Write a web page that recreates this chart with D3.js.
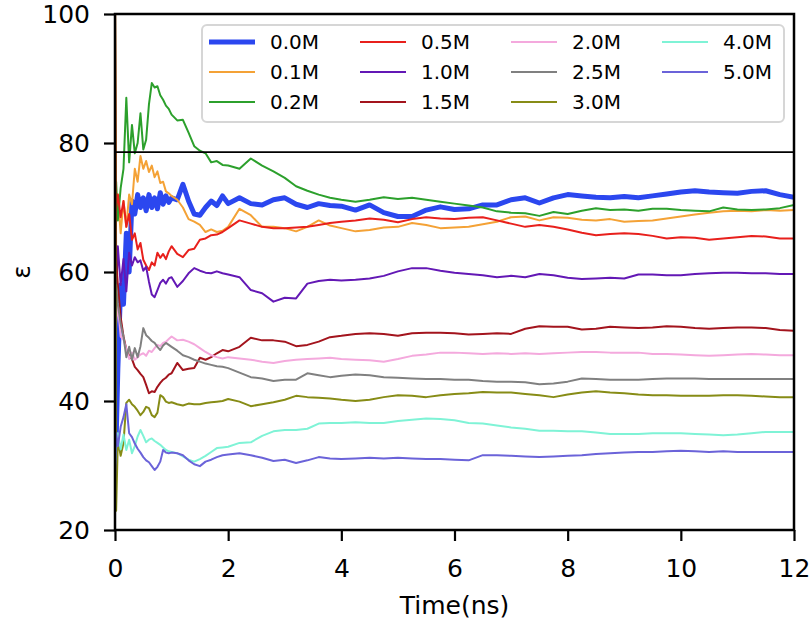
<!DOCTYPE html>
<html>
<head>
<meta charset="utf-8">
<script src="https://cdn.jsdelivr.net/npm/d3@7"></script>
<style>
  html, body { margin: 0; padding: 0; background: #fff; }
  svg { display: block; font-family: "DejaVu Sans", sans-serif; }
</style>
</head>
<body>
<svg id="chart" width="810" height="621"></svg>
<script>
// ---------- data ----------
const times = [0,0.02,0.05,0.1,0.15,0.2,0.25,0.3,0.35,0.4,0.45,0.5,0.55,0.6,0.65,0.7,0.75,0.8,0.85,0.9,0.95,1.0,
  1.1,1.2,1.3,1.4,1.5,1.6,1.7,1.8,1.9,2.0,
  2.2,2.4,2.6,2.8,3.0,3.2,3.4,3.6,3.8,4.0,
  4.25,4.5,4.75,5.0,5.25,5.5,5.75,6.0,6.25,6.5,6.75,7.0,7.25,7.5,7.75,8.0,8.25,8.5,8.75,9.0,9.25,9.5,9.75,10.0,10.25,10.5,10.75,11.0,11.25,11.5,11.75,12.0];

const eps00 = [40,34,45,58,55,66,60,71,69,72,70,71.5,69.5,72,70,71.5,69.8,72.3,70.5,71.8,70.8,71.5,
  71.2,73.6,71,69,68.8,70,71,70.3,71.8,70.6,
  71.5,70.6,70.4,71.2,71.5,70.5,70,70.6,70.3,70.2,
  69.6,70.4,69.2,68.6,68.6,69.6,70.1,69.7,69.8,70.4,70.4,71.2,71.5,70.7,71.5,72,71.8,71.6,71.5,71.7,71.5,71.8,72.1,72.4,72.6,72.4,72.3,72.2,72.5,72.6,72,71.6];
const eps01 = [105,68,72,66,71,67,72,70.5,76,74,78,76,77.2,75.5,76.5,74.7,75.6,73.8,74,72.5,72.2,71.8,
  71.2,70,68.2,67.8,67.3,66.2,66.6,66.2,66.4,67,
  69.8,68.8,67,67,66.8,66.3,67,68,67.2,66.8,
  66.3,66.5,66.9,67,67.6,67.3,66.8,66.9,67,67.4,67.8,68.5,68.6,68,68.5,68.4,68.1,68,68.2,67.8,67.9,68,68.3,68.6,68.9,69.2,69.4,69.5,69.4,69.6,69.5,69.6];
const eps02 = [60,74,68,73,76,87,77,82.8,78.4,80,84.6,79,80.5,86,89.3,88.6,88.8,87.4,86.7,85.8,85.3,84.4,
  83.5,83.6,81.6,79.5,78.8,78.4,77,77.2,76.6,76.5,
  76,77.6,76.5,75.6,74.6,73.3,72.6,72,71.5,71.2,
  70.9,71.2,71.6,71.3,71.5,71.2,70.9,70.6,70.3,70,69.4,69.2,69.1,68.7,69.3,69,69.5,69.9,69.6,69.7,69.5,69.8,69.8,69.6,69.5,69.4,70,69.7,69.6,69.7,69.9,70.4];
const eps05 = [75,70,72,68.5,71,67,69,65,66,63.5,64.5,61.9,61,60.3,61.5,61,63,62.2,62.8,62,63.2,64,
  62.8,62.3,63.4,63.6,65,65.2,65.7,65.8,66.2,66.8,
  68,67.5,67,66.8,66.8,66.9,67,67.3,67.6,67.8,
  68,68.3,68.1,67.7,68.2,68.5,68.3,68.2,68.4,68.5,68,67.5,67,67.3,67,66.6,66.1,65.7,65.9,66,65.9,65.6,65.2,65.4,65.3,65,65.2,65.4,65.6,65.5,65.2,65.2];
const eps10 = [50,56,64,58,62,57,63,61,62.3,61.5,61.8,60.2,60.8,58.5,56.5,56.1,57.2,58.3,58.8,58.2,59,59.2,
  57.7,58.6,59.8,60.6,60.2,59.9,59.8,60.1,59.8,59.6,
  59.2,57.2,56.7,55.4,56,55.9,58.2,58.6,58.8,58.7,
  58.8,59,59.4,60.1,60.6,60.6,60.2,59.9,59.7,59.5,59.2,59.4,59.2,59.7,59.5,59.1,58.9,59,59.1,59,59.6,59.6,59.5,59.5,59.7,59.8,59.9,59.9,59.8,59.8,59.7,59.7];
const eps15 = [102,62,58,53,50,48,47,46.5,45.3,44.8,44.2,43.7,42.5,41.2,41.5,41.4,42.2,42.8,43.3,43.6,44.1,44.3,
  45.9,44.8,45,45.1,46.7,46.4,46.8,47.4,47.9,47.7,
  48.4,49.8,49.4,49.4,49.2,48.5,48.7,49.2,49.9,50.1,
  50.4,50.5,50.4,50.1,50.5,50.6,50.6,50.5,50.3,50.4,50.5,50.4,51.2,51.6,51.5,51.5,51.1,51.2,51.5,51.4,51.3,51.4,51.6,51.5,51.3,51.2,51.3,51.4,51.4,51.3,51,50.9];
const eps20 = [45,52,55,50,49.5,48,46.5,47.5,46.4,46.8,47.2,47.4,47,47.8,47.6,48.2,48.7,48.5,49,49.2,49.6,50,
  49.4,49.5,49.2,48.8,48.2,47.6,47.1,46.8,46.6,46.8,
  46.6,46.4,46.1,45.9,46.2,46.4,46.5,46.6,46.7,46.5,
  46.4,46.3,46.1,46.5,47,47.2,47.5,47.5,47.4,47.3,47.4,47.3,47.4,47.3,47.4,47.5,47.6,47.6,47.5,47.5,47.5,47.3,47.3,47.2,47.1,47,47.1,47.2,47.3,47.2,47.1,47.1];
const eps25 = [40,58,55,52,50,46.8,48.4,46.4,48.2,46.8,48.5,51.3,50.2,49.8,49.3,49,48.4,47.9,48.6,49,48.7,48.4,
  47.8,47.1,46.8,46.4,46.1,45.8,45.6,45.4,45.3,45.1,
  44.4,43.7,43.5,43.1,43.3,43.3,44.3,44,43.7,43.9,
  44.1,44,43.7,43.6,43.5,43.4,43.4,43.3,43.3,43.1,43,43,42.9,42.6,42.7,43,43.5,43.4,43.3,43.3,43.3,43.4,43.5,43.5,43.5,43.4,43.4,43.4,43.4,43.4,43.4,43.4];
const eps30 = [102,23,34,31.5,33.5,39.7,40.2,39.5,39.1,38.5,37.8,38.3,39.1,38.9,37.8,37.5,38.2,40.9,40.6,39.9,39.7,39.8,
  39.5,39.3,39.6,39.5,39.5,39.7,39.8,39.9,40,40.3,
  39.9,39.2,39.5,39.8,40.2,40.8,40.6,40.5,40.4,40.2,
  40,40.2,40.6,40.9,40.8,40.6,40.9,41.1,41.2,41.4,41.3,41.3,41.1,40.9,40.6,41,41.3,41.5,41.3,41.2,41,40.9,40.9,40.8,40.8,40.8,40.9,40.9,40.8,40.7,40.6,40.6];
const eps40 = [30,33,35,32.5,34.8,32.4,34,31.9,33,34.5,35.5,34.6,33.6,34,34.2,33.8,33.5,33.2,32.8,32.4,32.2,32.1,
  31.9,31.4,30.9,30.6,31,31.5,32.1,32.7,32.8,32.9,
  33.5,33.6,34.6,35.3,35.5,35.5,35.7,36.5,36.6,36.6,
  36.7,36.6,36.6,36.9,37.1,37.3,37.2,37,36.6,36.5,36.2,35.9,35.7,35.4,35.4,35.3,35.3,35.1,34.9,34.9,34.9,35,35,35,34.9,34.8,34.7,34.8,35,35.2,35.2,35.2];
const eps50 = [28,35,33,36,37.5,39.5,35,34.4,33.4,32.6,32,31.3,30.8,30.5,29.9,29.3,29.8,30.6,32.4,32,31.9,32,
  31.9,31.6,30.8,30.2,29.9,30.6,30.9,31.3,31.6,31.7,
  31.9,31.6,31.2,30.7,30.9,30.4,30.8,31.3,31.1,31,
  31.1,31.2,31.1,31.2,31.1,31,31,30.9,30.8,31.6,31.6,31.5,31.4,31.3,31.4,31.5,31.6,31.8,31.9,32,32.1,32.1,32.2,32.3,32.2,32.1,32.2,32.1,32.1,32.1,32.1,32.1];

const seriesLabels = ["0.0M","0.1M","0.2M","0.5M","1.0M","1.5M","2.0M","2.5M","3.0M","4.0M","5.0M"];
const seriesValues = [eps00,eps01,eps02,eps05,eps10,eps15,eps20,eps25,eps30,eps40,eps50];
const seriesColors = ["#2b47ef","#f4a236","#2ca02c","#e8201c","#6318b5","#a3141d","#f4a9dd","#808080","#878c16","#7ff3d6","#6b63d9"];
const seriesWidths = [5,2,2,2,2,2,2,2,2,2,2];

const xTicks = [0,2,4,6,8,10,12];
const yTicks = [20,40,60,80,100];
const refLine = 78.6;
const xLabel = "Time(ns)";
const yLabel = "ε";

// ---------- layout ----------
const svg = d3.select("#chart");
const L = 115, R = 794, T = 14, B = 530;
const x = d3.scaleLinear().domain([0,12]).range([L,R]);
const y = d3.scaleLinear().domain([20,100]).range([B,T]);
const FS = 25;

svg.append("defs").append("clipPath").attr("id","clip")
  .append("rect").attr("x",L).attr("y",T).attr("width",R-L).attr("height",B-T);

const plot = svg.append("g").attr("clip-path","url(#clip)");

const line = d3.line().x(d => x(d[0])).y(d => y(d[1]));

seriesValues.forEach((vals, i) => {
  plot.append("path")
    .datum(times.map((t, k) => [t, vals[k]]))
    .attr("fill","none")
    .attr("stroke", seriesColors[i])
    .attr("stroke-width", seriesWidths[i])
    .attr("stroke-linejoin","round")
    .attr("stroke-linecap","butt")
    .attr("d", line);
});

// reference horizontal line
plot.append("line")
  .attr("x1", x(0)).attr("x2", x(12))
  .attr("y1", y(refLine)).attr("y2", y(refLine))
  .attr("stroke","#000").attr("stroke-width",1.8);

// axes
const xAxis = svg.append("g").attr("transform",`translate(0,${B})`)
  .call(d3.axisBottom(x).tickValues(xTicks).tickFormat(d3.format("d")).tickSize(11).tickPadding(18));
const yAxis = svg.append("g").attr("transform",`translate(${L},0)`)
  .call(d3.axisLeft(y).tickValues(yTicks).tickFormat(d3.format("d")).tickSize(11).tickPadding(14));
[xAxis, yAxis].forEach(a => {
  a.select(".domain").remove();
  a.selectAll(".tick line").attr("stroke","#000").attr("stroke-width",2.2);
  a.selectAll(".tick text").attr("fill","#000").style("font-size", FS + "px")
    .style("font-family","DejaVu Sans, sans-serif");
});

// spines
svg.append("rect").attr("x",L).attr("y",T).attr("width",R-L).attr("height",B-T)
  .attr("fill","none").attr("stroke","#000").attr("stroke-width",2.5);

// axis labels
svg.append("text").attr("x",(L+R)/2).attr("y",614).attr("text-anchor","middle")
  .style("font-size", FS + "px").text(xLabel);
svg.append("text").attr("transform",`translate(30,${(T+B)/2}) rotate(-90)`)
  .attr("text-anchor","middle").style("font-size", FS + "px").text(yLabel);

// legend
const lg = svg.append("g");
lg.append("rect").attr("x",202).attr("y",25).attr("width",582).attr("height",97)
  .attr("rx",5).attr("fill","#fff").attr("fill-opacity",0.85)
  .attr("stroke","#d6d6d6").attr("stroke-width",2);
seriesLabels.forEach((lab, i) => {
  const c = Math.floor(i / 3), r = i % 3;
  const x0 = 209 + c * 151, yy = 42 + r * 30;
  lg.append("line").attr("x1",x0).attr("x2",x0+46).attr("y1",yy).attr("y2",yy)
    .attr("stroke",seriesColors[i]).attr("stroke-width",seriesWidths[i]);
  lg.append("text").attr("x",x0+61).attr("y",yy).attr("dy","0.36em")
    .style("font-size","20px").text(lab);
});
</script>
</body>
</html>
